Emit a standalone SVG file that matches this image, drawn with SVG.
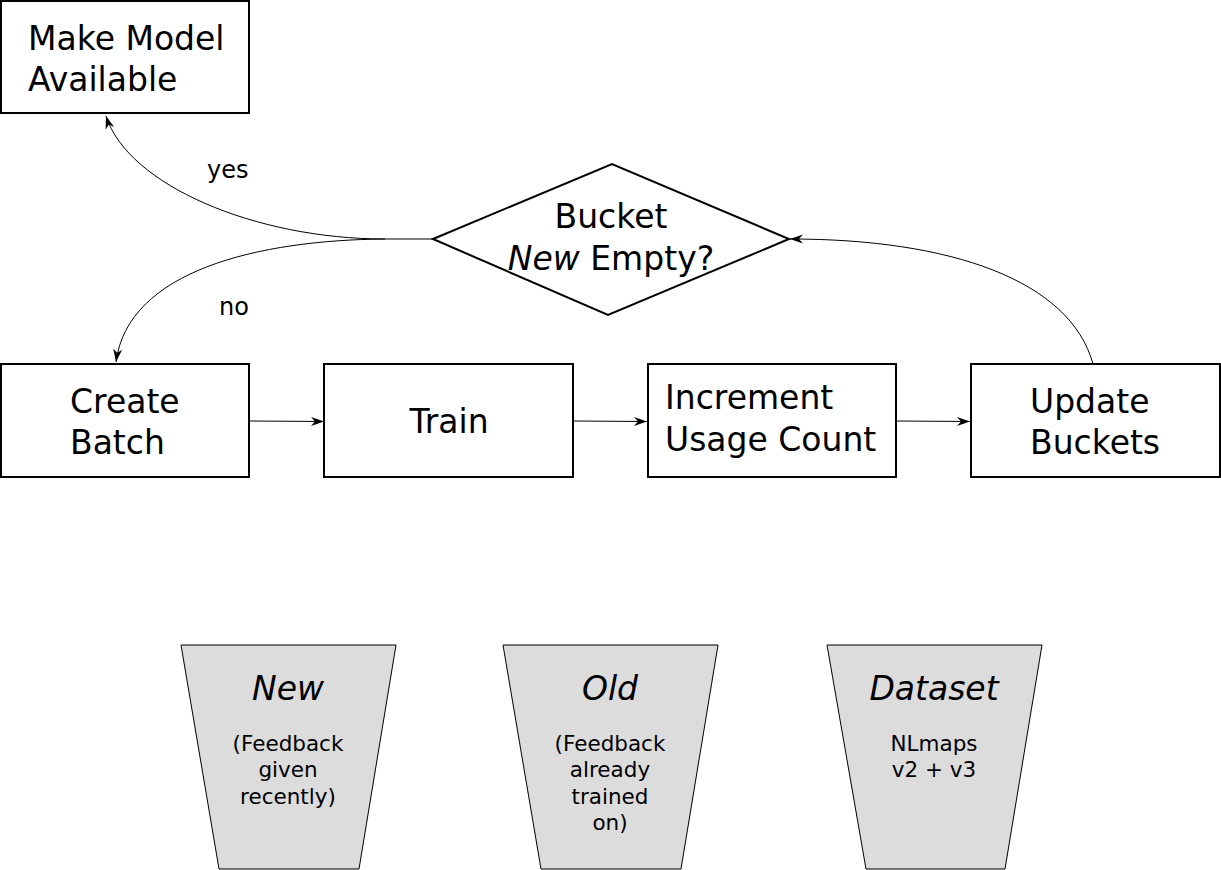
<svg xmlns="http://www.w3.org/2000/svg" width="1221" height="870" viewBox="0 0 1221 870">
<style>
.box{fill:#fff;stroke:#000;stroke-width:2}
.bucket{fill:#dcdcdc;stroke:#000;stroke-width:1}
.t{font-family:"DejaVu Sans",sans-serif;font-size:33px;fill:#000}
.s{font-family:"DejaVu Sans",sans-serif;font-size:21.5px;fill:#000}
.l{font-family:"DejaVu Sans",sans-serif;font-size:24px;fill:#000}
.c{text-anchor:middle}
.i{font-style:italic}
.edge{fill:none;stroke:#000;stroke-width:1}
</style>
<defs>
<marker id="arr" markerUnits="userSpaceOnUse" markerWidth="18" markerHeight="12" viewBox="-15 -6 16 12" refX="0" refY="0" orient="auto">
<path d="M0,0 L-13,-4.5 L-9,0 L-13,4.5 Z" fill="#000"/>
</marker>
</defs>
<rect width="1221" height="870" fill="#fff"/>
<g id="make-model">
<rect class="box" x="1" y="1" width="248" height="112"/>
<text class="t" x="28" y="50">Make Model</text>
<text class="t" x="28" y="91">Available</text>
</g>
<g id="decision">
<polygon class="box" points="433,239 612,164 789,239 608,315"/>
<text class="t c" x="611" y="228">Bucket</text>
<text class="t c" x="611" y="270"><tspan class="i">New</tspan> Empty?</text>
</g>
<g id="create-batch">
<rect class="box" x="1" y="364" width="248" height="113"/>
<text class="t" x="70" y="413">Create</text>
<text class="t" x="70" y="454">Batch</text>
</g>
<g id="train">
<rect class="box" x="324" y="364" width="249" height="113"/>
<text class="t c" x="449" y="433">Train</text>
</g>
<g id="increment">
<rect class="box" x="648" y="364" width="248" height="113"/>
<text class="t" x="665" y="409">Increment</text>
<text class="t" x="665" y="451">Usage Count</text>
</g>
<g id="update">
<rect class="box" x="971" y="364" width="249" height="113"/>
<text class="t" x="1030" y="413">Update</text>
<text class="t" x="1030" y="454">Buckets</text>
</g>
<g id="connectors">
<path class="edge" d="M433,239 L385,239 C255,239 128,185 106,116" marker-end="url(#arr)"/>
<path class="edge" d="M385,239 C260,240 128,270 116,362" marker-end="url(#arr)"/>
<path class="edge" d="M1093,364 C1070,280 950,239 790,239" marker-end="url(#arr)"/>
<path class="edge" d="M250,421 L324,421.5" marker-end="url(#arr)"/>
<path class="edge" d="M574,421 L647,421.5" marker-end="url(#arr)"/>
<path class="edge" d="M897,421 L970,421.5" marker-end="url(#arr)"/>
<text class="l" x="207" y="178">yes</text>
<text class="l" x="219" y="315">no</text>
</g>
<g id="bucket-new">
<polygon class="bucket" points="181,645 396,645 359,869 219,869"/>
<text class="t c i" x="288" y="700">New</text>
<text class="s c" x="288" y="751">(Feedback</text>
<text class="s c" x="288" y="777">given</text>
<text class="s c" x="288" y="804">recently)</text>
</g>
<g id="bucket-old">
<polygon class="bucket" points="503,645 718,645 681,869 541,869"/>
<text class="t c i" x="610" y="700">Old</text>
<text class="s c" x="610" y="751">(Feedback</text>
<text class="s c" x="610" y="777">already</text>
<text class="s c" x="610" y="804">trained</text>
<text class="s c" x="610" y="830">on)</text>
</g>
<g id="bucket-dataset">
<polygon class="bucket" points="827,645 1042,645 1005,869 866,869"/>
<text class="t c i" x="934" y="700">Dataset</text>
<text class="s c" x="934" y="751">NLmaps</text>
<text class="s c" x="934" y="777">v2 + v3</text>
</g>
</svg>
